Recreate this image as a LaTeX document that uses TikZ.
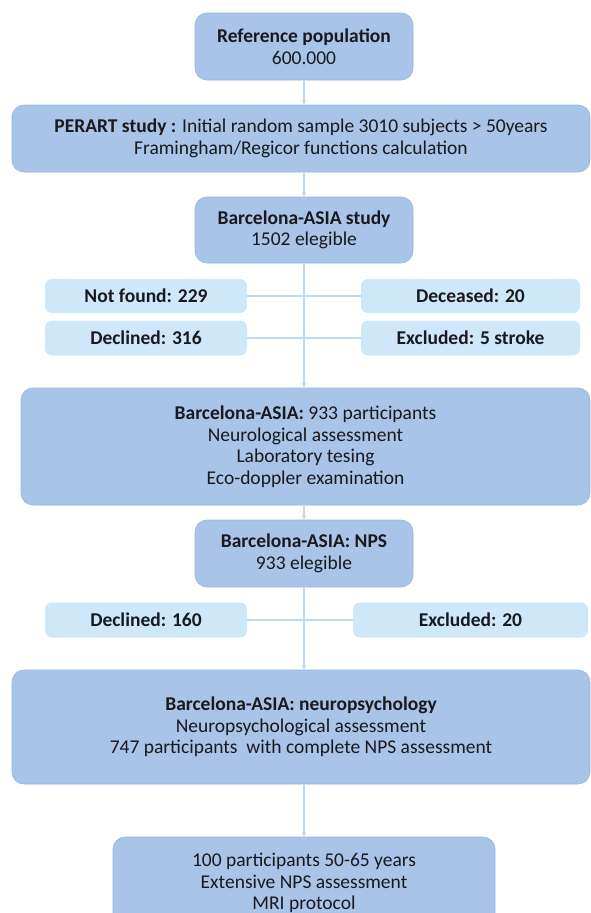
\documentclass[tikz,border=0pt]{standalone}
\usepackage{fontspec}
\setmainfont{Carlito}
\usepackage{xcolor}
\usepackage{tikz}
\usetikzlibrary{arrows.meta,positioning,calc}

\definecolor{mainblue}{RGB}{168,196,232}
\definecolor{mainedge}{RGB}{150,180,222}
\definecolor{sideblue}{RGB}{206,232,250}
\definecolor{lineblue}{RGB}{190,218,242}
\definecolor{textink}{RGB}{25,25,30}

\tikzset{
  mainbox/.style={rounded corners=12pt, fill=mainblue, draw=mainedge, line width=0.6pt,
    align=center, inner sep=0pt, text=textink, font=\fontsize{19.5}{21.5}\selectfont},
  sidebox/.style={rounded corners=7pt, fill=sideblue, draw=none, text=textink,
    align=center, inner sep=0pt, font=\fontsize{19.5}{21.5}\selectfont\bfseries},
  flow/.style={lineblue, line width=2pt, -{Stealth[length=5pt,width=5pt]}},
  branch/.style={lineblue, line width=2pt}
}

\begin{document}
\begin{tikzpicture}[x=1pt, y=-1pt]

%% ── Page frame (591 x 913 px) ────────────────────────────────────────────────
\clip (0,0) rectangle (591,913);
\fill[white] (0,0) rectangle (591,913);

%% ── Top of the flow ──────────────────────────────────────────────────────────
\node[mainbox, minimum width=218pt, minimum height=67pt] (refpop) at (304, 46.5)
  {\textbf{Reference population}\\600.000};
\node[mainbox, minimum width=578pt, minimum height=67pt] (perart) at (301, 138.5)
  {\textbf{PERART study :} Initial random sample 3010 subjects > 50years\\
   Framingham/Regicor functions calculation};
\node[mainbox, minimum width=218pt, minimum height=66pt] (asia) at (304, 230)
  {\textbf{Barcelona-ASIA study}\\1502 elegible};

%% ── First losses ─────────────────────────────────────────────────────────────
\node[sidebox, minimum width=202pt, minimum height=34pt] (notfound) at (146, 296)   {Not found: 229};
\node[sidebox, minimum width=219pt, minimum height=34pt] (deceased) at (470.5, 296) {Deceased: 20};
\node[sidebox, minimum width=202pt, minimum height=35pt] (declined) at (146, 338)   {Declined: 316};
\node[sidebox, minimum width=219pt, minimum height=35pt] (excluded) at (470.5, 338) {Excluded: 5 stroke};

%% ── Participants ─────────────────────────────────────────────────────────────
\node[mainbox, minimum width=569pt, minimum height=117pt] (partic) at (305.5, 446.5)
  {\textbf{Barcelona-ASIA:} 933 participants\\Neurological assessment\\
   Laboratory tesing\\Eco-doppler examination};
\node[mainbox, minimum width=218pt, minimum height=67pt] (nps) at (304, 553.5)
  {\textbf{Barcelona-ASIA: NPS}\\933 elegible};

%% ── Second losses ────────────────────────────────────────────────────────────
\node[sidebox, minimum width=202pt, minimum height=35pt] (declnps) at (146, 620)   {Declined: 160};
\node[sidebox, minimum width=235pt, minimum height=35pt] (exclnps) at (470.5, 620) {Excluded: 20};

%% ── Neuropsychology and MRI ──────────────────────────────────────────────────
\node[mainbox, minimum width=578pt, minimum height=114pt] (neuro) at (301, 727)
  {\textbf{Barcelona-ASIA: neuropsychology}\\Neuropsychological assessment\\
   747 participants\ \ with complete NPS assessment};
\node[mainbox, minimum width=382pt, minimum height=92pt] (mri) at (304, 883)
  {100 participants 50-65 years\\Extensive NPS assessment\\MRI protocol};

%% ── Connectors ───────────────────────────────────────────────────────────────
\draw[flow] (refpop.south) -- (refpop.south |- perart.north);
\draw[flow] (asia.north |- perart.south) -- (asia.north);
\draw[flow] (asia.south) -- (asia.south |- partic.north);
\draw[branch] (notfound.east) -- (deceased.west);
\draw[branch] (declined.east) -- (excluded.west);
\draw[flow] (nps.north |- partic.south) -- (nps.north);
\draw[flow] (nps.south) -- (nps.south |- neuro.north);
\draw[branch] (declnps.east) -- (exclnps.west);
\draw[flow] (mri.north |- neuro.south) -- (mri.north);

\end{tikzpicture}
\end{document}
